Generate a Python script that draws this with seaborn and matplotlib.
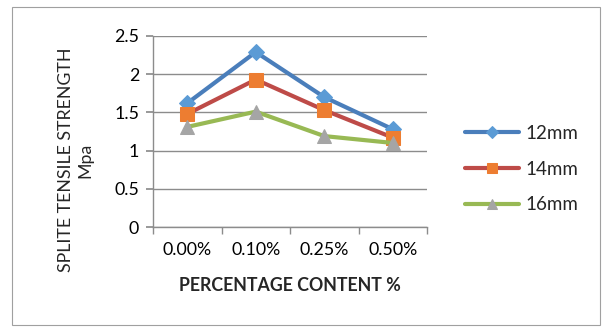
import matplotlib
matplotlib.use("Agg")
import matplotlib.pyplot as plt
import seaborn as sns
import pandas as pd
from matplotlib.patches import Rectangle

categories = ["0.00%", "0.10%", "0.25%", "0.50%"]
s12 = [1.62, 2.29, 1.70, 1.28]
s14 = [1.48, 1.93, 1.53, 1.17]
s16 = [1.31, 1.51, 1.19, 1.10]
series_names = ["12mm", "14mm", "16mm"]

sns.set_theme(style="white")
plt.rcParams["font.family"] = ["Lato", "DejaVu Sans"]

df = pd.DataFrame({
    "content": categories * 3,
    "strength": s12 + s14 + s16,
    "size": [n for n in series_names for _ in categories],
})

fig = plt.figure(figsize=(6.08, 3.34), dpi=100)
ax = fig.add_axes([153 / 608, 1 - 227 / 334, (427 - 153) / 608, (227 - 36) / 334])

styles = {
    "12mm": dict(color="#4A7EBB", marker="D", mfc="#5B9BD5", ms=8),
    "14mm": dict(color="#BE4B48", marker="s", mfc="#ED7D31", ms=9.5),
    "16mm": dict(color="#98B954", marker="^", mfc="#A5A5A5", ms=10),
}
for name in series_names:
    st = styles[name]
    sub = df[df["size"] == name]
    sns.lineplot(data=sub, x="content", y="strength", ax=ax, sort=False,
                 color=st["color"], lw=3, marker=st["marker"], ms=st["ms"],
                 markerfacecolor=st["mfc"], markeredgecolor=st["mfc"],
                 label=name)

ax.set_xlim(-0.5, 3.5)
ax.set_ylim(0, 2.5)
ax.set_yticks([0, 0.5, 1, 1.5, 2, 2.5])
ax.set_yticklabels(["0", "0.5", "1", "1.5", "2", "2.5"])
ax.grid(axis="y", color="#8C8C8C", lw=1)
ax.grid(axis="x", visible=False)
ax.set_axisbelow(True)
for side in ["top", "right"]:
    ax.spines[side].set_visible(False)
ax.spines["left"].set_color("#8C8C8C")
ax.spines["bottom"].set_color("#8C8C8C")
ax.spines["left"].set_linewidth(1)
ax.spines["bottom"].set_linewidth(1)

fs = 12.8
ax.set_xticks(range(4))
ax.set_xticklabels(categories)
ax.tick_params(axis="x", length=0, pad=11, labelsize=fs, colors="black")
ax.tick_params(axis="y", left=True, length=5, color="#8C8C8C", labelsize=fs,
               pad=5, colors="black")
# category boundary ticks along the x axis
ax.set_xticks([-0.5, 0.5, 1.5, 2.5, 3.5], minor=True)
ax.tick_params(axis="x", which="minor", bottom=True, length=5, color="#8C8C8C")

ax.set_xlabel("PERCENTAGE CONTENT %", fontsize=fs, fontweight="bold")
ax.set_ylabel("SPLITE TENSILE STRENGTH\nMpa", fontsize=fs, linespacing=1.2,
              multialignment="center")
ax.xaxis.set_label_coords((290 - 153) / (427 - 153), -(277 - 227) / (227 - 36))
ax.yaxis.set_label_coords(-(153 - 93) / (427 - 153), (227 - 160) / (227 - 36))

handles, labels = ax.get_legend_handles_labels()
ax.legend(handles, labels, loc="center left", bbox_to_anchor=(465 / 608, 1 - 169 / 334),
          bbox_transform=fig.transFigure, frameon=False, fontsize=13.5,
          handlelength=2.9, handletextpad=0.3, labelspacing=1.0, borderpad=0,
          borderaxespad=0, markerscale=0.75)

fig.patches.append(Rectangle((12 / 608, 1 - 325 / 334), (600 - 12) / 608, (325 - 7) / 334,
                             transform=fig.transFigure, fill=False,
                             edgecolor="#A0A0A0", lw=0.8))

fig.savefig("out.png", dpi=100)
